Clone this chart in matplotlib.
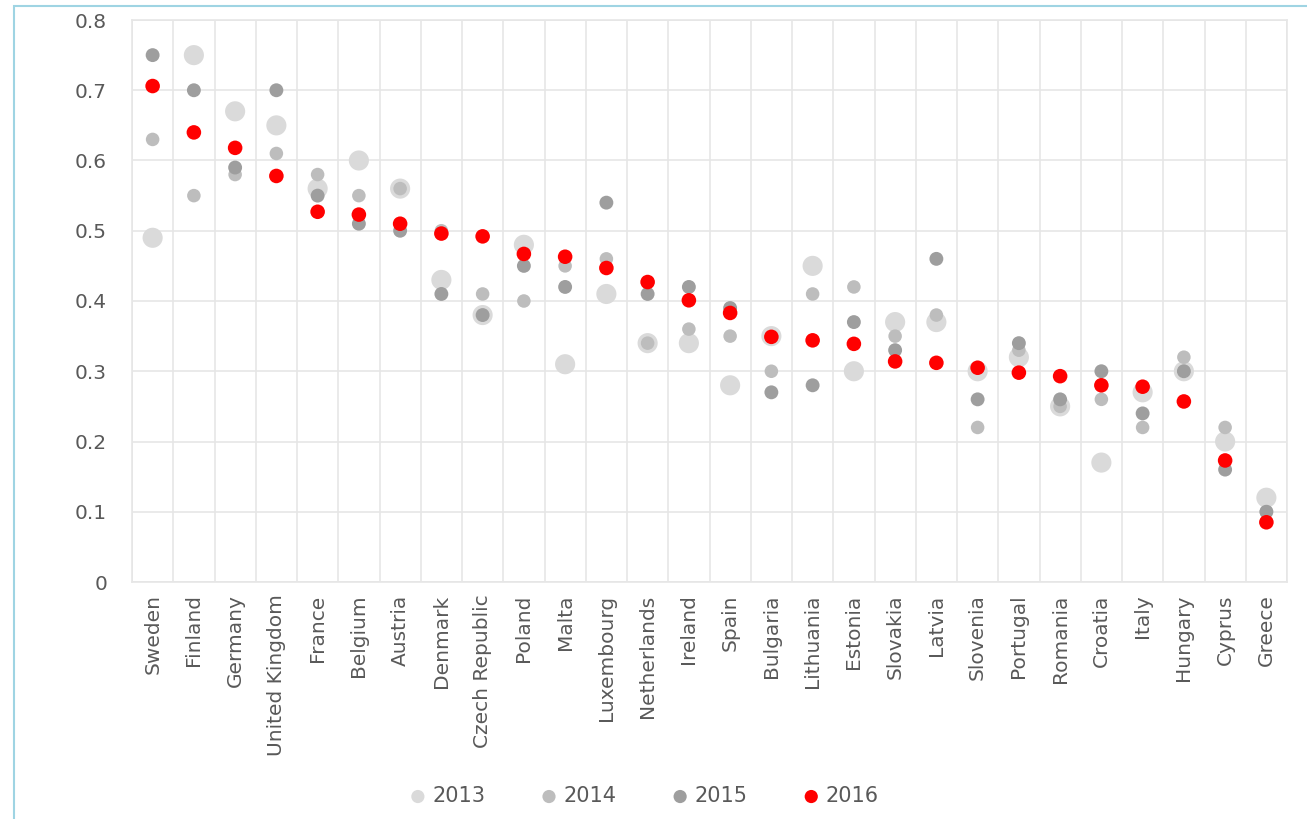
import numpy as np
import matplotlib
matplotlib.use("Agg")
import matplotlib.pyplot as plt
from matplotlib.patches import Rectangle

countries = ["Sweden", "Finland", "Germany", "United Kingdom", "France", "Belgium",
             "Austria", "Denmark", "Czech Republic", "Poland", "Malta", "Luxembourg",
             "Netherlands", "Ireland", "Spain", "Bulgaria", "Lithuania", "Estonia",
             "Slovakia", "Latvia", "Slovenia", "Portugal", "Romania", "Croatia",
             "Italy", "Hungary", "Cyprus", "Greece"]

v2013 = [0.49, 0.75, 0.67, 0.65, 0.56, 0.60, 0.56, 0.43, 0.38, 0.48, 0.31, 0.41,
         0.34, 0.34, 0.28, 0.35, 0.45, 0.30, 0.37, 0.37, 0.30, 0.32, 0.25, 0.17,
         0.27, 0.30, 0.20, 0.12]
v2014 = [0.63, 0.55, 0.58, 0.61, 0.58, 0.55, 0.56, 0.50, 0.41, 0.40, 0.45, 0.46,
         0.34, 0.36, 0.35, 0.30, 0.41, 0.42, 0.35, 0.38, 0.22, 0.33, 0.25, 0.26,
         0.22, 0.32, 0.22, 0.10]
v2015 = [0.75, 0.70, 0.59, 0.70, 0.55, 0.51, 0.50, 0.41, 0.38, 0.45, 0.42, 0.54,
         0.41, 0.42, 0.39, 0.27, 0.28, 0.37, 0.33, 0.46, 0.26, 0.34, 0.26, 0.30,
         0.24, 0.30, 0.16, 0.10]
v2016 = [0.706, 0.640, 0.618, 0.578, 0.527, 0.523, 0.510, 0.496, 0.492, 0.467,
         0.463, 0.447, 0.427, 0.401, 0.383, 0.349, 0.344, 0.339, 0.314, 0.312,
         0.305, 0.298, 0.293, 0.280, 0.278, 0.257, 0.173, 0.085]

years = ["2013", "2014", "2015", "2016"]
series = [v2013, v2014, v2015, v2016]
colors = ["#dadada", "#bdbdbd", "#9e9e9e", "#ff0000"]
sizes = [210, 95, 100, 110]

plt.rcParams["font.family"] = ["DejaVu Sans"]
text_col = "#595959"
grid_col = "#e6e6e6"

W, H = 1307, 819
fig = plt.figure(figsize=(W / 100, H / 100), dpi=100)
ax = fig.add_axes([132 / W, 1 - 582 / H, (1287 - 132) / W, (582 - 20) / H])

x = np.arange(len(countries))
for yr, vals, c, s in zip(years, series, colors, sizes):
    ax.scatter(x, vals, s=s, color=c, edgecolors="none", label=yr, zorder=3)

ax.set_xlim(-0.5, len(countries) - 0.5)
ax.set_ylim(0, 0.8)
ax.set_yticks(np.arange(0, 0.81, 0.1))
ax.set_yticklabels(["0"] + [f"{v:.1f}" for v in np.arange(0.1, 0.81, 0.1)])
ax.set_xticks(x)
ax.set_xticklabels(countries, rotation=90)
ax.set_xticks(np.arange(-0.5, len(countries), 1), minor=True)
ax.tick_params(axis="both", which="both", length=0, colors=text_col, labelsize=14.5)
ax.tick_params(axis="y", pad=18)
ax.tick_params(axis="x", pad=9)
ax.grid(axis="y", which="major", color=grid_col, lw=1.2)
ax.grid(axis="x", which="minor", color=grid_col, lw=1.2)
ax.set_axisbelow(True)
for sp in ax.spines.values():
    sp.set_color(grid_col)
    sp.set_linewidth(1.2)

leg = fig.legend(loc="center", bbox_to_anchor=(638 / W, 1 - 796 / H), ncol=4,
                 frameon=False, fontsize=15, handletextpad=-0.3, columnspacing=2.05,
                 markerscale=0.7)
for t in leg.get_texts():
    t.set_color(text_col)
for h in leg.legend_handles:
    h.set_sizes([90])

fig.patches.append(Rectangle((14 / W, -0.05), 1.1, 1 - 6 / H + 0.05,
                             transform=fig.transFigure, fill=False,
                             edgecolor="#9fd4e3", lw=1.5))

fig.savefig("out.png", dpi=100)
